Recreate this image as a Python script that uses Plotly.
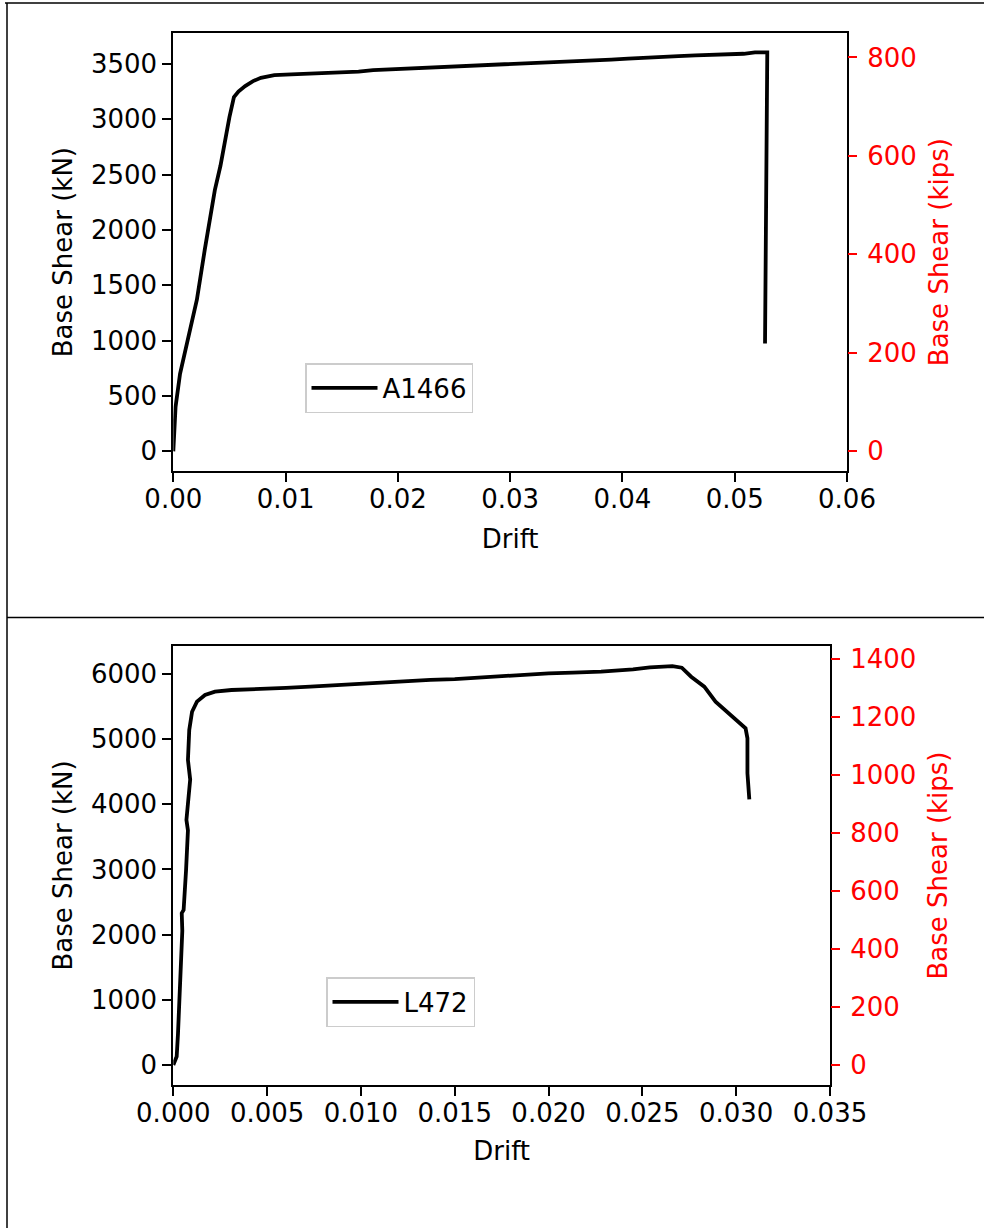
import plotly.graph_objects as go

KN_TO_KIPS = 0.224809

# ---- Panel 1: A1466 ----
drift_a = [0, 0.0002, 0.0006, 0.0013, 0.0021, 0.0028, 0.0033, 0.0037, 0.0042, 0.0046,
           0.0050, 0.0054, 0.0058, 0.0064, 0.0071, 0.0078, 0.0090, 0.0105, 0.0120, 0.0135,
           0.0150, 0.0165, 0.0178, 0.0195, 0.0210, 0.0225, 0.0240, 0.0255, 0.0270, 0.0285,
           0.0300, 0.0315, 0.0330, 0.0345, 0.0360, 0.0375, 0.0390, 0.0405, 0.0420, 0.0435,
           0.0450, 0.0465, 0.0480, 0.0495, 0.0508, 0.0518, 0.0529, 0.0527]
shear_a = [0, 400, 700, 1030, 1370, 1820, 2120, 2360, 2580, 2810,
           3020, 3200, 3250, 3300, 3345, 3375, 3400, 3405, 3412, 3418,
           3425, 3430, 3445, 3452, 3458, 3465, 3472, 3478, 3484, 3496,
           3500, 3506, 3512, 3520, 3525, 3531, 3540, 3548, 3553, 3560,
           3570, 3577, 3582, 3588, 3592, 3604, 3605, 975]

# ---- Panel 2: L472 ----
drift_l = [0, 0.00018, 0.00025, 0.00030, 0.00028, 0.00037, 0.00048, 0.00045, 0.00055, 0.00068,
           0.00078, 0.00070, 0.00085, 0.00090, 0.00078, 0.00085, 0.00100, 0.00126, 0.00169, 0.00222,
           0.0031, 0.0046, 0.0060, 0.0073, 0.0087, 0.0100, 0.0112, 0.0124, 0.0137, 0.0150,
           0.0163, 0.0175, 0.0188, 0.0200, 0.0213, 0.0228, 0.0245, 0.0254, 0.0266, 0.0271,
           0.0276, 0.0283, 0.0289, 0.0294, 0.0300, 0.0305, 0.0306, 0.0306, 0.0307]
shear_l = [0, 130, 480, 840, 950, 1460, 2060, 2330, 2380, 2990,
           3600, 3760, 4220, 4380, 4680, 5140, 5420, 5575, 5678, 5729,
           5754, 5765, 5785, 5806, 5830, 5857, 5875, 5897, 5910, 5920,
           5945, 5960, 5985, 6010, 6022, 6035, 6072, 6100, 6120, 6096,
           5958, 5805, 5575, 5447, 5305, 5166, 5013, 4476, 4077]

name_a = "A1466"
name_l = "L472"

FONT = "DejaVu Sans"
FS = 26
W, H = 984, 1228
LW = 3.8

def px(x):
    return x / W

def py(y):
    return 1 - y / H

fig = go.Figure()
fig.add_trace(go.Scatter(x=drift_a, y=shear_a, mode="lines", name=name_a,
                         line=dict(color="black", width=LW), xaxis="x", yaxis="y",
                         legend="legend"))
fig.add_trace(go.Scatter(x=drift_a, y=[v * KN_TO_KIPS for v in shear_a], mode="lines",
                         line=dict(color="rgba(0,0,0,0)", width=0), showlegend=False,
                         hoverinfo="skip", xaxis="x", yaxis="y2"))
fig.add_trace(go.Scatter(x=drift_l, y=shear_l, mode="lines", name=name_l,
                         line=dict(color="black", width=LW), xaxis="x2", yaxis="y3",
                         legend="legend2"))
fig.add_trace(go.Scatter(x=drift_l, y=[v * KN_TO_KIPS for v in shear_l], mode="lines",
                         line=dict(color="rgba(0,0,0,0)", width=0), showlegend=False,
                         hoverinfo="skip", xaxis="x2", yaxis="y4"))

base = dict(showgrid=False, zeroline=False, ticks="outside", ticklen=9, tickwidth=2,
            automargin=False)
left_common = dict(base, tickfont=dict(family=FONT, size=FS, color="black"),
                   showline=True, linecolor="black", linewidth=2, mirror=True,
                   tickcolor="black")
x_common = dict(left_common, ticklabelstandoff=-5)
y_common = dict(left_common, ticklabelstandoff=0)
right_common = dict(base, side="right", showline=False, tickcolor="red",
                    ticklabelstandoff=5,
                    tickfont=dict(family=FONT, size=FS, color="red"))

r1 = [-178, 3777]
r2 = [-307, 6429]

fig.update_layout(
    width=W, height=H, autosize=False,
    margin=dict(l=0, r=0, t=0, b=0),
    paper_bgcolor="white", plot_bgcolor="white",
    font=dict(family=FONT, size=FS, color="black"),
    xaxis=dict(domain=[px(173.3), px(847)], anchor="y", range=[0, 0.06], dtick=0.01,
               tick0=0, tickformat=".2f",
               title=dict(text="Drift", font=dict(family=FONT, size=FS), standoff=17),
               **x_common),
    yaxis=dict(domain=[py(471), py(33.3)], anchor="x", range=r1, dtick=500, tick0=0,
               title=dict(text="Base Shear (kN)", font=dict(family=FONT, size=FS), standoff=11),
               **y_common),
    yaxis2=dict(overlaying="y", anchor="x",
                range=[r1[0] * KN_TO_KIPS, r1[1] * KN_TO_KIPS], dtick=200, tick0=0,
                title=dict(text="Base Shear (kips)", font=dict(family=FONT, size=FS, color="red"),
                           standoff=13),
                **right_common),
    xaxis2=dict(domain=[px(173.3), px(830)], anchor="y3", range=[0, 0.035], dtick=0.005,
                tick0=0, tickformat=".3f",
                title=dict(text="Drift", font=dict(family=FONT, size=FS), standoff=15),
                **x_common),
    yaxis3=dict(domain=[py(1085), py(646)], anchor="x2", range=r2, dtick=1000, tick0=0,
                title=dict(text="Base Shear (kN)", font=dict(family=FONT, size=FS), standoff=11),
                **y_common),
    yaxis4=dict(overlaying="y3", anchor="x2",
                range=[r2[0] * KN_TO_KIPS, r2[1] * KN_TO_KIPS], dtick=200, tick0=0,
                title=dict(text="Base Shear (kips)", font=dict(family=FONT, size=FS, color="red"),
                           standoff=13),
                **right_common),
    legend=dict(x=px(305), y=py(363), xanchor="left", yanchor="top",
                bordercolor="#cccccc", borderwidth=1.5, bgcolor="white",
                font=dict(family=FONT, size=FS), itemwidth=66),
    legend2=dict(x=px(326), y=py(977), xanchor="left", yanchor="top",
                 bordercolor="#cccccc", borderwidth=1.5, bgcolor="white",
                 font=dict(family=FONT, size=FS), itemwidth=66),
    shapes=[
        dict(type="line", xref="paper", yref="paper", x0=px(5), x1=1, y0=py(3), y1=py(3),
             line=dict(color="black", width=1.5)),
        dict(type="line", xref="paper", yref="paper", x0=px(7), x1=px(7), y0=0, y1=py(3),
             line=dict(color="black", width=1.5)),
        dict(type="line", xref="paper", yref="paper", x0=px(7), x1=1, y0=py(617.5), y1=py(617.5),
             line=dict(color="black", width=1.5)),
    ],
)

fig.write_html("out.html", config={"displayModeBar": False},
               post_script="document.body.style.margin='0px';document.body.style.overflow='hidden';")
